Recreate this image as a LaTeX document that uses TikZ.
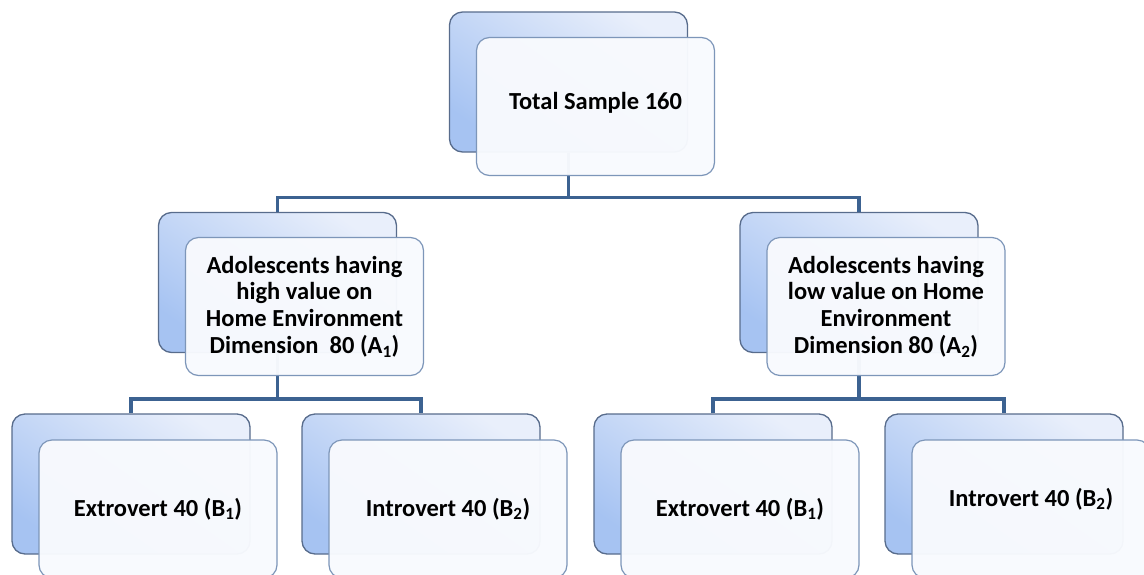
\documentclass[tikz,border=0pt]{standalone}
\usepackage{fontspec}
\setsansfont{Carlito}
\usetikzlibrary{calc,positioning}
\definecolor{box_dark}{RGB}{166,195,242}
\definecolor{box_light}{RGB}{233,239,251}
\definecolor{box_edge}{RGB}{88,108,140}
\definecolor{front_edge}{RGB}{125,150,185}
\definecolor{front_fill}{RGB}{248,250,254}
\definecolor{conn_blue}{RGB}{60,98,145}
\tikzset{
  back_box/.style = {draw=box_edge, line width=1.3pt, rounded corners=13pt,
    bottom color=box_dark, top color=box_light, shading angle=-35,
    minimum width=238pt, minimum height=140pt, inner sep=0pt},
  front_box/.style = {draw=front_edge, line width=1.2pt, rounded corners=13pt,
    fill=front_fill, fill opacity=0.97, text opacity=1, minimum width=238pt,
    minimum height=138pt, inner sep=0pt, align=center, text=black,
    font=\sffamily\bfseries\fontsize{24.5}{26.7}\selectfont},
  conn/.style = {draw=conn_blue, line width=3.5pt}
}

\begin{document}
\begin{tikzpicture}[x=1pt,y=-1pt]
  \useasboundingbox (0,0) rectangle (1144,574);
  \clip (0,0) rectangle (1144,574);
  \fill[white] (0,0) rectangle (1144,574);

  \node[back_box] (sample_b) at (568.5,82) {};
  \node[back_box] (high_b) at (277.5,282.5) {};
  \node[back_box] (low_b) at (859,282.5) {};
  \node[back_box] (ext1_b) at (131,484) {};
  \node[back_box] (int1_b) at (421,484) {};
  \node[back_box] (ext2_b) at (713,484) {};
  \node[back_box] (int2_b) at (1004,484) {};

  \draw[conn] (sample_b.south) -- ++(0,45);
  \draw[conn] (high_b.north) |- ($(sample_b.south)+(0,45)$) -| (low_b.north);
  \draw[conn] (high_b.south) -- ++(0,46);
  \draw[conn] (ext1_b.north) |- ($(high_b.south)+(0,46)$) -| (int1_b.north);
  \draw[conn] (low_b.south) -- ++(0,46);
  \draw[conn] (ext2_b.north) |- ($(low_b.south)+(0,46)$) -| (int2_b.north);

  \node[front_box, text depth=12pt] (sample_f) at ($(sample_b)+(27,24.5)$) {Total Sample 160};
  \node[front_box] (high_f) at ($(high_b)+(27,24)$)
    {Adolescents having\\high value on\\Home Environment\\Dimension~~80 (A\textsubscript{1})};
  \node[front_box] (low_f) at ($(low_b)+(27,24)$)
    {Adolescents having\\low value on Home\\Environment\\Dimension 80 (A\textsubscript{2})};
  \node[front_box, text depth=4pt] (ext1_f) at ($(ext1_b)+(27,25)$) {Extrovert 40 (B\textsubscript{1})};
  \node[front_box, text depth=4pt] (int1_f) at ($(int1_b)+(27,25)$) {Introvert 40 (B\textsubscript{2})};
  \node[front_box, text depth=4pt] (ext2_f) at ($(ext2_b)+(27,25)$) {Extrovert 40 (B\textsubscript{1})};
  \node[front_box, text depth=24pt] (int2_f) at ($(int2_b)+(27,25)$) {Introvert 40 (B\textsubscript{2})};
\end{tikzpicture}
\end{document}
